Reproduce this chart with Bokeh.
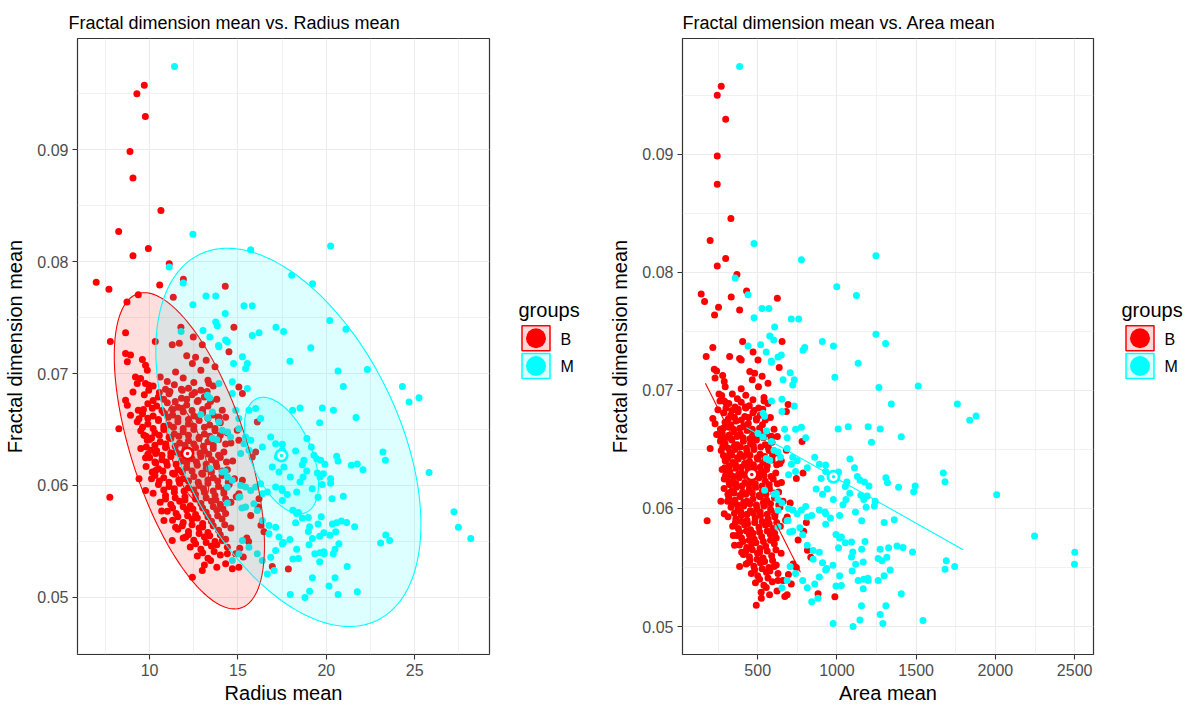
import numpy as np
from bokeh.plotting import figure
from bokeh.layouts import row
from bokeh.models import Range1d, FixedTicker
from bokeh.core.properties import value
from bokeh.embed import file_html
from bokeh.resources import INLINE

FONT = "Liberation Sans"
group_names = ["B", "M"]
group_colors = ["#FF0000", "#00FFFF"]

# ---------------- data: group B (sparse / outlying points) ----------------
B_radius = [
    9.70, 9.28, 9.76, 8.89, 9.06, 10.64, 8.25, 9.93, 9.06, 11.11, 6.98, 7.70, 10.57, 11.91, 9.36, 8.72, 11.34, 14.28,
    11.77, 14.77, 8.64, 7.78, 12.47, 10.32, 11.28, 11.68, 12.98, 14.49, 8.92, 12.10, 13.20, 12.60,
    8.64, 8.74, 9.59, 9.77, 9.87, 9.20, 9.49, 9.30, 9.77, 9.96, 9.06, 8.64, 8.74, 8.92, 9.40, 9.36, 8.26, 9.68, 9.87, 10.11, 9.81, 10.06, 10.34, 9.77, 10.30, 10.34, 10.11, 9.40,
    9.77, 7.75, 10.68, 10.81, 11.28, 11.47, 12.04,
    12.42, 12.98, 13.45, 14.68, 15.05, 14.87, 14.40, 14.11, 16.94, 17.85, 16.47, 16.30,
    16.19, 16.15, 15.72, 16.09, 15.05, 15.25, 14.11, 13.92, 14.96, 15.05, 15.81, 16.00, 15.25, 15.05, 15.50, 15.60,
    12.42, 12.90, 11.47, 13.70, 11.85, 13.36,
]
B_area = [
    270, 245, 298, 245, 245, 331, 200, 298, 245, 369, 143.5, 165, 333, 430, 253, 228, 386, 624,
    405, 654, 217, 175, 471, 323, 396, 386, 502, 636, 241, 450, 528, 481,
    226, 231, 279, 289, 295, 256, 273, 262, 289, 300, 249, 217, 231, 241, 268, 265, 200, 284, 295, 310, 292, 307, 324, 289, 321, 324, 310, 268,
    289, 181, 346, 354, 386, 399, 439,
    491, 523, 554, 671, 686, 660, 628, 603, 881, 987, 835, 814,
    807, 790, 755, 780, 692, 681, 603, 587, 681, 649, 744, 786, 705, 686, 723, 744,
    466, 505, 396, 565, 425, 540,
]
B_fd = [
    .09576, .09501, .09298, .08985, .08747, .08457, .08269, .08117, .08054, .07982, .07816, .07753, .07791, .07842, .07705, .07639, .07681, .07780,
    .07415, .07415, .07364, .07287, .07326, .07287, .07257, .07270, .07257, .07194, .07165, .07160, .07120, .07145,
    .07180, .07105, .07126, .07075, .07030, .06970, .06956, .06911, .06911, .06896, .06836, .06762, .06717, .06627, .06597, .06672, .06508, .06449, .06404, .06425, .06344, .06314, .06285, .06249, .06209, .06135, .06060, .06060,
    .05956, .05896, .05771, .05688, .05509, .05628, .05539,
    .05180, .05240, .05330, .05255, .05270, .05389, .05448, .05509, .05277, .05253, .05586, .05645,
    .05882, .05807, .05732, .06568, .06881, .06822, .06672, .06612, .06493, .06404, .06254, .06300, .06046, .05927, .05530, .05500,
    .07090, .07030, .07015, .07060, .06851, .06911,
]

# ---------------- data: group B (dense core, rows) ----------------
B_core_radius = [
    10.6, 11.0, 11.9, 12.5, 13.3,
    10.2, 10.9, 11.4, 12.2, 12.9, 13.6,
    9.7, 10.5, 11.1, 11.8, 12.4, 13.1, 13.8,
    9.9, 10.4, 11.0, 11.6, 12.1, 12.7, 13.3,
    9.6, 10.2, 10.8, 11.3, 11.9, 12.5, 13.0, 13.6, 14.3,
    9.3, 9.9, 10.5, 11.1, 11.6, 12.2, 12.8, 13.4, 14.0,
    9.5, 10.3, 10.8, 11.4, 11.9, 12.5, 13.1, 13.7, 14.4,
    10.0, 10.6, 11.2, 11.7, 12.2, 12.8, 13.3, 13.9, 14.6,
    9.5, 10.4, 10.9, 11.5, 12.0, 12.6, 13.1, 13.6, 14.2,
    10.0, 10.7, 11.2, 11.8, 12.4, 12.9, 13.5, 14.0, 14.7,
    9.8, 10.5, 11.0, 11.6, 12.1, 12.7, 13.2, 13.8, 14.4,
    10.3, 10.8, 11.4, 11.9, 12.5, 13.0, 13.6, 14.1, 14.8,
    10.5, 11.1, 11.7, 12.2, 12.8, 13.3, 13.9, 14.5,
    10.2, 10.9, 11.4, 12.0, 12.6, 13.1, 13.7, 14.2, 14.9,
    10.6, 11.2, 11.7, 12.3, 12.9, 13.5, 14.0, 14.6,
    11.0, 11.5, 12.1, 12.6, 13.2, 13.8, 14.3,
    11.3, 11.9, 12.4, 13.0, 13.5, 14.1,
    11.6, 12.2, 12.8, 13.3, 13.9, 14.6,
    11.9, 12.5, 13.1, 13.7, 14.3,
    12.3, 12.9, 13.5, 15.1,
    12.7, 13.3, 14.0, 15.3,
    13.1, 13.8, 14.3,
]
B_core_area = [
    340, 372, 425, 470, 540,
    318, 357, 396, 447, 506, 565,
    287, 330, 376, 419, 470, 516, 580,
    294, 331, 364, 412, 441, 492, 530,
    276, 318, 350, 390, 433, 468, 516, 556, 624,
    265, 294, 337, 370, 410, 455, 492, 548, 590,
    270, 324, 356, 390, 432, 476, 515, 572, 622,
    300, 343, 377, 418, 448, 500, 532, 590, 640,
    276, 325, 362, 398, 440, 478, 524, 556, 614,
    306, 344, 383, 420, 462, 508, 548, 598, 650,
    288, 338, 366, 405, 447, 486, 531, 574, 632,
    318, 356, 391, 432, 470, 515, 557, 606, 660,
    332, 376, 412, 454, 494, 539, 582, 640,
    313, 362, 397, 433, 484, 518, 566, 608, 676,
    342, 378, 418, 455, 508, 549, 597, 643,
    369, 398, 447, 478, 525, 580, 617,
    385, 431, 463, 515, 550, 605,
    410, 448, 499, 534, 588, 648,
    427, 476, 517, 571, 617,
    460, 500, 555, 694,
    486, 539, 592, 712,
    522, 575, 622,
]
B_core_fd = [
    .0697, .0693, .0696, .0692, .0694,
    .0689, .0686, .0690, .0687, .0685, .0689,
    .0681, .0679, .0682, .0678, .0681, .0679, .0677,
    .0673, .0671, .0674, .0670, .0672, .0675, .0671,
    .0664, .0662, .0665, .0663, .0666, .0662, .0665, .0663, .0661,
    .0657, .0655, .0658, .0654, .0657, .0655, .0658, .0654, .0656,
    .0649, .0647, .0650, .0646, .0648, .0650, .0646, .0649, .0647,
    .0641, .0639, .0642, .0638, .0640, .0642, .0639, .0641, .0638,
    .0633, .0631, .0634, .0630, .0632, .0634, .0631, .0633, .0630,
    .0625, .0623, .0626, .0622, .0624, .0626, .0623, .0625, .0622,
    .0617, .0615, .0618, .0614, .0616, .0618, .0615, .0617, .0614,
    .0609, .0607, .0610, .0606, .0608, .0610, .0607, .0609, .0606,
    .0601, .0599, .0602, .0598, .0600, .0602, .0599, .0601,
    .0593, .0591, .0594, .0590, .0592, .0594, .0591, .0593, .0590,
    .0585, .0583, .0586, .0582, .0584, .0586, .0583, .0585,
    .0577, .0575, .0578, .0574, .0576, .0578, .0575,
    .0569, .0567, .0570, .0566, .0568, .0570,
    .0561, .0559, .0562, .0558, .0560, .0562,
    .0553, .0551, .0554, .0550, .0552,
    .0545, .0543, .0546, .0544,
    .0537, .0535, .0538, .0536,
    .0529, .0527, .0530,
]

# ---------------- data: group B (dense core, in-between rows) ----------------
B_mid_radius = [
    9.95, 10.55, 11.15, 11.80, 12.55, 13.25,
    10.20, 10.80, 11.45, 12.10, 12.75, 13.45,
    9.65, 10.15, 10.70, 11.30, 11.85, 12.40, 13.00,
    9.90, 10.50, 11.05, 11.60, 12.20, 12.75, 13.30, 13.90,
    9.60, 10.20, 10.80, 11.35, 11.90, 12.50, 13.10, 13.70,
    9.80, 10.55, 11.10, 11.65, 12.20, 12.80, 13.40, 14.00,
    10.30, 10.90, 11.45, 12.00, 12.50, 13.05, 13.60, 14.30,
    9.90, 10.70, 11.20, 11.75, 12.30, 12.85, 13.35, 13.90,
    10.35, 10.95, 11.50, 12.10, 12.65, 13.20, 13.75, 14.35,
    10.15, 10.75, 11.30, 11.85, 12.40, 12.95, 13.50, 14.10,
    10.55, 11.10, 11.65, 12.20, 12.75, 13.30, 13.85, 14.45,
    10.80, 11.40, 11.95, 12.50, 13.05, 13.60, 14.20,
    10.90, 11.45, 12.00, 12.60, 13.20, 13.75, 14.30,
    11.30, 11.90, 12.45, 13.00, 13.60, 14.15,
    11.60, 12.15, 12.70, 13.30, 13.85,
    11.85, 12.40, 13.00, 13.60, 14.25,
    12.20, 12.80, 13.40, 14.00,
    12.60, 13.20, 13.80,
    13.00, 13.65, 14.40,
]
B_mid_area = [
    300, 337, 377, 422, 477, 532,
    315, 353, 397, 444, 492, 548,
    282, 312, 347, 387, 425, 466, 512,
    297, 334, 370, 408, 451, 492, 536, 585,
    279, 315, 353, 390, 429, 473, 520, 569,
    291, 337, 373, 411, 451, 496, 544, 594,
    321, 360, 397, 436, 473, 516, 560, 620,
    297, 347, 380, 418, 458, 500, 540, 585,
    325, 363, 401, 444, 485, 528, 573, 624,
    312, 350, 387, 425, 466, 508, 552, 602,
    337, 373, 411, 451, 492, 536, 581, 633,
    353, 394, 433, 473, 516, 560, 611,
    360, 397, 436, 481, 528, 573, 620,
    387, 429, 470, 512, 560, 607,
    408, 447, 489, 536, 581,
    425, 466, 512, 560, 615,
    451, 496, 544, 594,
    481, 528, 577,
    512, 565, 628,
]
B_mid_fd = [
    .0685, .0683, .0684, .0686, .0683, .0684,
    .0676, .0677, .0675, .0677, .0676, .0675,
    .0668, .0669, .0667, .0668, .0669, .0667, .0668,
    .0660, .0659, .0661, .0660, .0659, .0661, .0660, .0659,
    .0652, .0651, .0653, .0652, .0651, .0653, .0652, .0651,
    .0644, .0645, .0643, .0644, .0645, .0643, .0644, .0645,
    .0636, .0637, .0635, .0636, .0637, .0635, .0636, .0637,
    .0628, .0627, .0629, .0628, .0627, .0629, .0628, .0627,
    .0620, .0621, .0619, .0620, .0621, .0619, .0620, .0621,
    .0612, .0613, .0611, .0612, .0613, .0611, .0612, .0613,
    .0604, .0603, .0605, .0604, .0603, .0605, .0604, .0603,
    .0596, .0597, .0595, .0596, .0597, .0595, .0596,
    .0588, .0589, .0587, .0588, .0589, .0587, .0588,
    .0580, .0581, .0579, .0580, .0581, .0579,
    .0572, .0573, .0571, .0572, .0573,
    .0564, .0565, .0563, .0564, .0565,
    .0556, .0557, .0555, .0556,
    .0548, .0549, .0547,
    .0540, .0541, .0539,
]

# ---------------- data: group M ----------------
M_radius = [
    11.41, 12.45, 15.72, 20.24, 11.11, 18.04, 11.90, 19.22, 13.19, 13.74, 12.45, 15.34, 15.81, 14.28, 13.74, 13.83, 20.19, 21.11, 17.15, 17.58, 15.81, 16.19, 13.02, 13.41, 11.78, 14.30, 13.90, 19.12,
    17.94, 20.66, 22.32, 20.96, 24.30, 24.68, 25.24, 18.09, 18.51, 19.77, 20.40, 21.68, 19.62, 23.20, 23.34, 25.81, 27.22, 27.47, 28.17, 23.07, 23.36, 23.58,
    20.58, 20.66, 21.41, 21.75, 22.07, 19.15, 18.26, 19.30, 19.45, 19.68, 19.92, 18.73, 18.64, 18.89, 18.68, 18.51, 17.96, 19.49, 19.64, 19.83,
    20.24, 20.24, 19.77, 19.20, 17.47, 17.79, 18.32, 17.51, 19.53, 20.32, 20.96, 18.11, 18.32, 18.64, 18.26, 19.05, 19.53, 19.71, 17.51, 18.90,
    20.34, 20.58, 20.85, 21.15, 21.60, 19.86, 20.20, 20.53, 19.21, 19.02, 17.94, 17.57, 18.32, 20.71, 20.49, 19.64, 19.86, 18.11, 19.62, 21.18, 19.21, 20.49, 20.15, 19.05, 18.79, 17.96, 20.66, 21.75,
    18.42, 18.98, 18.98, 19.62, 18.42, 19.35, 19.88, 20.39,
    13.92, 14.40, 15.25, 15.53, 15.43, 14.75, 14.68, 15.53, 14.68, 13.27, 13.92, 13.55, 14.87, 15.05, 15.62, 16.00, 16.28, 13.92, 14.11, 14.40,
    14.58, 15.05, 15.43, 15.34, 15.62, 15.15, 15.72, 16.38, 16.85, 17.13, 17.51, 17.23, 16.94, 17.32, 17.60, 14.11, 14.40, 14.68, 15.15, 15.43,
    15.72, 16.00, 16.28, 16.38, 16.66, 17.13, 17.51, 15.05, 15.43, 15.90, 16.09, 16.38, 16.75, 17.13, 16.75, 17.32, 17.51, 17.13, 16.85, 17.04,
    16.66, 15.25, 15.62, 16.09, 16.38, 15.05, 14.68,
    12.90, 13.40, 13.30, 13.55, 13.80, 13.40, 14.28, 14.40, 14.40, 15.11, 15.22,
]
M_area = [
    386, 477, 776, 1246, 358, 999, 439, 1123, 527, 571, 477, 712, 759, 607, 576, 601, 1246, 1307, 908, 978, 786, 797, 519, 554, 439, 649, 586, 1134,
    987, 1265, 1513, 1343, 1760, 1838, 1878, 1008, 1071, 1197, 1273, 1406, 1218, 1671, 1682, 2008, 2247, 2501, 2499, 1682, 1690, 1743,
    1309, 1319, 1389, 1494, 1484, 1111, 1010, 1129, 1146, 1174, 1202, 1063, 1053, 1081, 1057, 1038, 977, 1151, 1169, 1191,
    1241, 1236, 1184, 1117, 925, 959, 1017, 929, 1156, 1298, 1362, 994, 1017, 1053, 1010, 1100, 1156, 1177, 929, 1082,
    1273, 1326, 1379, 1417, 1477, 1260, 1284, 1315, 1118, 1096, 975, 935, 1017, 1336, 1298, 1169, 1195, 994, 1166, 1406, 1155, 1309, 1273, 1145, 1102, 976, 1290, 1543,
    1028, 1092, 1092, 1166, 1028, 1134, 1197, 1260,
    587, 628, 705, 731, 721, 660, 653, 731, 653, 534, 587, 556, 670, 686, 739, 776, 803, 587, 603, 628,
    644, 686, 721, 713, 739, 695, 749, 813, 860, 889, 929, 900, 869, 909, 939, 603, 628, 653, 695, 721,
    749, 776, 803, 813, 841, 889, 929, 686, 721, 766, 784, 813, 850, 889, 850, 909, 929, 889, 860, 880,
    841, 705, 739, 784, 813, 686, 653,
    502, 544, 534, 554, 576, 544, 618, 628, 628, 692, 702,
]
M_fd = [
    .09744, .08245, .08107, .08140, .07953, .07878, .07810, .07803, .07693, .07693, .07615, .07606, .07606, .07538, .07460, .07427, .07475, .07397, .07415, .07377, .07340, .07364, .07386, .07326, .07377, .07300, .07250, .07230,
    .07111, .07024, .07037, .06885, .06885, .06747, .06783, .06673, .06693, .06693, .06673, .06607, .06560, .06300, .06226, .06117, .05766, .05628, .05527, .05486, .05558, .05509,
    .06261, .06218, .06180, .06191, .06141, .06344, .06308, .06270, .06240, .06225, .06190, .06225, .06186, .06129, .06075, .06031, .06075, .06112, .06075, .06106,
    .06061, .06021, .06010, .05971, .05971, .05920, .05941, .05867, .05896, .05882, .05905, .05779, .05749, .05710, .05668, .05631, .05655, .05720, .06369, .06420,
    .05655, .05667, .05682, .05669, .05631, .05577, .05556, .05586, .05527, .05470, .05518, .05491, .05430, .05479, .05430, .05400, .05408, .05343, .05319, .05277, .05176, .05176, .05101, .05055, .05000, .05025, .05025, .05050,
    .05758, .05715, .05588, .05546, .05348, .05390, .05390, .05390,
    .07239, .07284, .07150, .07090, .07046, .07090, .06926, .06867, .06822, .06807, .06911, .06657, .06672, .06598, .06672, .06687, .06598, .06568, .06493, .06478,
    .06433, .06508, .06433, .06374, .06314, .06285, .06404, .06344, .06433, .06374, .06314, .06254, .06165, .06120, .06165, .06120, .06075, .06046, .06000, .05986,
    .05956, .05986, .06016, .05927, .05941, .05986, .05956, .05896, .05807, .05837, .05777, .05688, .05643, .05628, .05569, .05539, .05479, .05419, .05359, .05240,
    .05210, .05509, .05448, .05389, .05329, .05389, .05329,
    .06635, .06782, .06606, .06423, .06409, .06154, .06126, .05984, .05843, .05899, .05800,
]

# group means (mean point markers)
mean_radius = [12.146, 17.463]
mean_area = [462.79, 978.38]
mean_fd = [0.062867, 0.062680]

# concentration ellipses of the radius panel: group, centre, half extents, correlation
ell_group = [0, 0, 1, 1]
ell_cx = [12.25, 12.15, 17.85, 17.46]
ell_cy = [0.0631, 0.06287, 0.0643, 0.06268]
ell_kx = [4.25, 1.20, 7.50, 2.10]
ell_ky = [0.01413, 0.0044, 0.0169, 0.0052]
ell_rho = [-0.60, -0.60, -0.46, -0.49]

# degenerate ellipses (segments) of the area panel
seg_group = [0, 1]
seg_x0 = [170, 428]
seg_y0 = [0.0706, 0.06686]
seg_x1 = [770, 1796]
seg_y1 = [0.0546, 0.05651]


def trim3(a, b, c):
    n = min(len(a), len(b), len(c))
    return list(a[:n]), list(b[:n]), list(c[:n])


s1 = trim3(B_radius, B_area, B_fd)
s2 = trim3(B_core_radius, B_core_area, B_core_fd)
s3 = trim3(B_mid_radius, B_mid_area, B_mid_fd)
Br = s1[0] + s2[0] + s3[0]
Ba = s1[1] + s2[1] + s3[1]
Bf = s1[2] + s2[2] + s3[2]
Mr, Ma, Mf = trim3(M_radius, M_area, M_fd)

t = np.linspace(0, 2 * np.pi, 241)
ellipses = []
for g, cx, cy, kx, ky, rho in zip(ell_group, ell_cx, ell_cy, ell_kx, ell_ky, ell_rho):
    ex = cx + kx * np.cos(t)
    ey = cy + ky * (rho * np.cos(t) + np.sqrt(1 - rho ** 2) * np.sin(t))
    ellipses.append((g, ex, ey))


def expand(vals, frac=0.05):
    lo, hi = min(vals), max(vals)
    pad = (hi - lo) * frac
    return lo - pad, hi + pad


def style(p, xticks, xminor, yticks, yminor):
    p.background_fill_color = "white"
    p.border_fill_color = "white"
    p.outline_line_color = "#333333"
    p.outline_line_width = 1.2
    p.xaxis.ticker = FixedTicker(ticks=xticks, minor_ticks=xminor)
    p.yaxis.ticker = FixedTicker(ticks=yticks, minor_ticks=yminor)
    for gr in (p.xgrid, p.ygrid):
        gr.grid_line_color = "#EBEBEB"
        gr.grid_line_width = 1.1
        gr.minor_grid_line_color = "#EBEBEB"
        gr.minor_grid_line_width = 0.7
    for ax in (p.xaxis, p.yaxis):
        ax.axis_line_color = None
        ax.major_tick_line_color = "#333333"
        ax.major_tick_line_width = 1.1
        ax.major_tick_out = 5
        ax.major_tick_in = 0
        ax.minor_tick_line_color = None
        ax.major_label_text_font = FONT
        ax.major_label_text_font_size = "16px"
        ax.major_label_text_color = "#4D4D4D"
        ax.major_label_standoff = 4
        ax.axis_label_text_font = FONT
        ax.axis_label_text_font_size = "20px"
        ax.axis_label_text_font_style = "normal"
        ax.axis_label_text_color = "black"
    p.xaxis.axis_label_standoff = 3
    p.yaxis.axis_label_standoff = 8
    p.title.text_font = FONT
    p.title.text_font_size = "18px"
    p.title.text_font_style = "normal"
    p.title.text_color = "black"
    p.title.align = "left"
    p.title.standoff = 11


def add_mean(p, xs):
    for i, c in enumerate(group_colors):
        p.scatter([xs[i]], [mean_fd[i]], size=14, fill_color=c, line_color=None)
        p.scatter([xs[i]], [mean_fd[i]], size=8.5, fill_color="white", line_color=None)
        p.scatter([xs[i]], [mean_fd[i]], size=3.5, fill_color=c, line_color=None)


# ---------------- panel 1: radius ----------------
all_x1 = Br + Mr + [v for e in ellipses for v in e[1]]
all_y1 = Bf + Mf + [v for e in ellipses for v in e[2]]
x1 = expand(all_x1)
y1 = expand(all_y1)
p1 = figure(width=500, height=711, x_range=Range1d(*x1), y_range=Range1d(*y1),
            toolbar_location=None, output_backend="svg",
            min_border_left=77, min_border_right=11, min_border_top=38, min_border_bottom=57,
            title="Fractal dimension mean vs. Radius mean",
            x_axis_label="Radius mean", y_axis_label="Fractal dimension mean")
style(p1, [10, 15, 20, 25], [7.5, 12.5, 17.5, 22.5, 27.5],
      [0.05, 0.06, 0.07, 0.08, 0.09], [0.045, 0.055, 0.065, 0.075, 0.085, 0.095])
p1.title.offset = -9
p1.scatter(Br, Bf, size=7, fill_color=group_colors[0], line_color=None)
p1.scatter(Mr, Mf, size=7, fill_color=group_colors[1], line_color=None)
for g, ex, ey in ellipses:
    c = group_colors[g]
    p1.patch(list(ex), list(ey), fill_color=c, fill_alpha=0.13, line_color=c, line_width=1.1)
add_mean(p1, mean_radius)

# ---------------- panel 2: area ----------------
x2 = expand(Ba + Ma + seg_x0 + seg_x1)
y2 = expand(Bf + Mf + seg_y0 + seg_y1)
p2 = figure(width=500, height=711, x_range=Range1d(*x2), y_range=Range1d(*y2),
            toolbar_location=None, output_backend="svg",
            min_border_left=82, min_border_right=7, min_border_top=38, min_border_bottom=57,
            title="Fractal dimension mean vs. Area mean",
            x_axis_label="Area mean", y_axis_label="Fractal dimension mean")
style(p2, [500, 1000, 1500, 2000, 2500], [250, 750, 1250, 1750, 2250],
      [0.05, 0.06, 0.07, 0.08, 0.09], [0.045, 0.055, 0.065, 0.075, 0.085, 0.095])
p2.title.offset = 0
p2.scatter(Ba, Bf, size=7, fill_color=group_colors[0], line_color=None)
p2.scatter(Ma, Mf, size=7, fill_color=group_colors[1], line_color=None)
for g, xa, ya, xb, yb in zip(seg_group, seg_x0, seg_y0, seg_x1, seg_y1):
    p2.line([xa, xb], [ya, yb], line_color=group_colors[g], line_width=1.1)
add_mean(p2, mean_area)


# ---------------- legends ----------------
def make_legend(w, title_x, key_x, label_x):
    lf = figure(width=w, height=711, x_range=Range1d(0, w), y_range=Range1d(711, 0),
                toolbar_location=None, output_backend="svg", min_border=0,
                x_axis_type=None, y_axis_type=None)
    lf.outline_line_color = None
    lf.background_fill_color = "white"
    lf.border_fill_color = "white"
    lf.text(x=[title_x], y=[313], text=["groups"], text_font=value(FONT),
            text_font_size="20px", text_baseline="middle", text_align="left", text_color="black")
    ky = [346, 378]
    kx = [key_x + 14.5] * 2
    lf.rect(x=kx, y=ky, width=28, height=29, fill_color=group_colors, fill_alpha=0.15,
            line_color=group_colors, line_width=1.5)
    lf.scatter(x=kx, y=ky, size=20, fill_color=group_colors, line_color=None)
    lf.text(x=[label_x] * 2, y=[347, 379], text=group_names, text_font=value(FONT),
            text_font_size="16px", text_baseline="middle", text_align="left", text_color="black")
    return lf


l1 = make_legend(100, 18, 21, 60)
l2 = make_legend(95, 21, 25, 64)

layout = row(p1, l1, p2, l2)
open("out.html", "w").write(file_html(layout, INLINE))
